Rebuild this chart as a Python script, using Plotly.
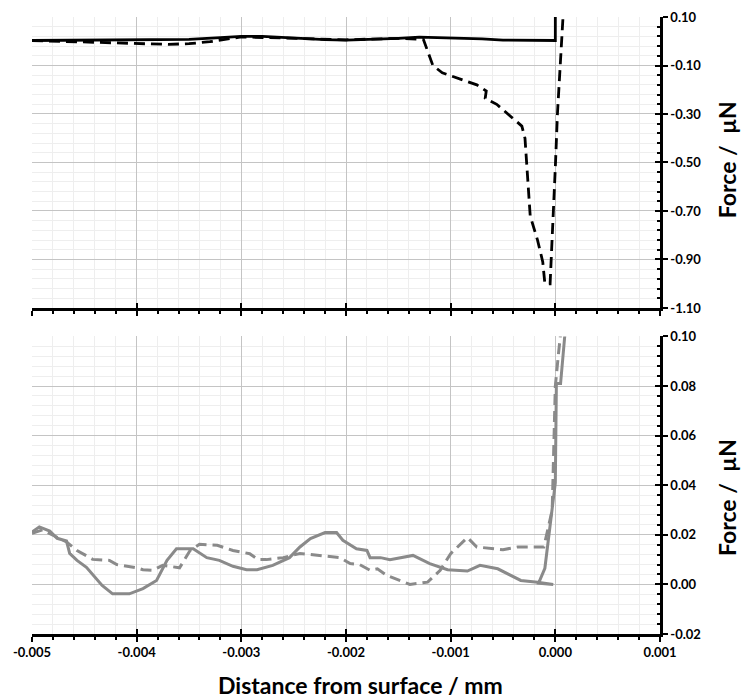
import plotly.graph_objects as go

# ---- Top panel (black) ----
top_solid_x = [-0.005, -0.0046, -0.0035, -0.0032, -0.0030, -0.0028, -0.0025, -0.0022, -0.0020,
               -0.0017, -0.0015, -0.0013, -0.0010, -0.0007, -0.0005, -0.0003, 0.0, 0.0]
top_solid_y = [0.003, 0.005, 0.008, 0.015, 0.020, 0.020, 0.012, 0.007, 0.005,
               0.008, 0.012, 0.017, 0.015, 0.010, 0.005, 0.003, 0.003, 0.15]

top_dash_x = [-0.005, -0.0046, -0.0043, -0.0040, -0.0037, -0.0035, -0.0033, -0.0030, -0.0025,
              -0.0020, -0.0015, -0.00126, -0.00117, -0.00108, -0.00075, -0.00066, -0.00067,
              -0.00056, -0.00032, -0.00029, -0.00024, -0.00017, -0.00012, -0.00010, -0.00005,
              -0.00004, 0.0, 0.00002, 0.00008]
top_dash_y = [0.003, -0.002, -0.006, -0.010, -0.013, -0.010, -0.002, 0.018, 0.012,
              0.006, 0.012, 0.007, -0.100, -0.130, -0.180, -0.205, -0.235,
              -0.260, -0.350, -0.400, -0.720, -0.820, -0.910, -1.000, -1.000,
              -0.910, -0.520, -0.300, 0.150]

# ---- Bottom panel (grey) ----
bot_solid_x = [-0.005, -0.00493, -0.00483, -0.00476, -0.00467, -0.00464, -0.00457, -0.00448,
               -0.00433, -0.00423, -0.00407, -0.00394, -0.00381, -0.00371, -0.00362, -0.00346,
               -0.00333, -0.00321, -0.00308, -0.00295, -0.00285, -0.0027, -0.00254, -0.00244,
               -0.00234, -0.0022, -0.00209, -0.00203, -0.0019, -0.0018, -0.00177, -0.00167,
               -0.00158, -0.00136, -0.0012, -0.00103, -0.00084, -0.00072, -0.00055, -0.00043,
               -0.00033, -0.00017, -0.00002, -0.00016, -0.0001, 0.0, 0.00001, 0.00005, 0.0001]
bot_solid_y = [0.0211, 0.0232, 0.0215, 0.0186, 0.0175, 0.0125, 0.0097, 0.0069,
               -0.0004, -0.0038, -0.0038, -0.0017, 0.0016, 0.0097, 0.0144, 0.0144,
               0.0108, 0.0097, 0.0073, 0.0059, 0.0059, 0.0077, 0.0108, 0.0151,
               0.0185, 0.0209, 0.0209, 0.0178, 0.0144, 0.0137, 0.0108, 0.0108,
               0.0100, 0.0117, 0.0084, 0.0059, 0.0054, 0.0077, 0.0063, 0.0036,
               0.0016, 0.0009, 0.0, 0.0005, 0.0065, 0.041, 0.081, 0.081, 0.105]

bot_dash_x = [-0.005, -0.0049, -0.00467, -0.00457, -0.00442, -0.00426, -0.00419, -0.004,
              -0.00394, -0.00385, -0.00375, -0.00359, -0.00349, -0.0034, -0.00323, -0.00308,
              -0.00292, -0.00284, -0.00276, -0.0026, -0.00244, -0.00228, -0.00206, -0.00196,
              -0.00187, -0.00177, -0.0017, -0.00161, -0.00139, -0.00122, -0.0011, -0.001,
              -0.00084, -0.00075, -0.0005, -0.00036, -0.00011, -0.00003, 0.0, 0.00003, 0.00006]
bot_dash_y = [0.0206, 0.0220, 0.0171, 0.0137, 0.0101, 0.0097, 0.0080, 0.0067,
              0.0059, 0.0057, 0.0077, 0.0067, 0.0137, 0.0162, 0.0158, 0.0137,
              0.0124, 0.0100, 0.0100, 0.0108, 0.0125, 0.0117, 0.0108, 0.0084,
              0.0080, 0.0057, 0.0063, 0.0036, 0.0, 0.0009, 0.0057, 0.0124,
              0.0189, 0.0151, 0.0140, 0.0151, 0.0151, 0.0299, 0.080, 0.093, 0.105]

# ---- Tick labels ----
x_tickvals = [-0.005, -0.004, -0.003, -0.002, -0.001, 0.0, 0.001]
x_ticktext = ["-0.005", "-0.004", "-0.003", "-0.002", "-0.001", "0.000", "0.001"]
top_tickvals = [0.1, -0.1, -0.3, -0.5, -0.7, -0.9, -1.1]
top_ticktext = ["0.10", "-0.10", "-0.30", "-0.50", "-0.70", "-0.90", "-1.10"]
bot_tickvals = [0.10, 0.08, 0.06, 0.04, 0.02, 0.0, -0.02]
bot_ticktext = ["0.10", "0.08", "0.06", "0.04", "0.02", "0.00", "-0.02"]

X_RANGE = [-0.005, 0.001]
TOP_RANGE = [-1.1, 0.1]
BOT_RANGE = [-0.02, 0.10]

X_TITLE = "Distance from surface / mm"
Y_TITLE = "Force /\u00a0\u00a0µN"

FONT = "Lato, 'Open Sans', sans-serif"
BLACK = "#000000"
GREY = "#8a8a8a"
DASH = "11px,6px"

fig = go.Figure()
fig.add_trace(go.Scatter(x=top_solid_x, y=top_solid_y, mode="lines", xaxis="x2", yaxis="y2",
                         line=dict(color=BLACK, width=2.8), showlegend=False))
fig.add_trace(go.Scatter(x=top_dash_x, y=top_dash_y, mode="lines", xaxis="x2", yaxis="y2",
                         line=dict(color=BLACK, width=2.8, dash=DASH), showlegend=False))
fig.add_trace(go.Scatter(x=bot_solid_x, y=bot_solid_y, mode="lines", xaxis="x", yaxis="y",
                         line=dict(color=GREY, width=3), showlegend=False))
fig.add_trace(go.Scatter(x=bot_dash_x, y=bot_dash_y, mode="lines", xaxis="x", yaxis="y",
                         line=dict(color=GREY, width=3, dash=DASH), showlegend=False))
# empty traces so the overlay (inner-tick) axes get drawn
fig.add_trace(go.Scatter(x=[None], y=[None], mode="lines", xaxis="x3", yaxis="y3",
                         showlegend=False, hoverinfo="skip"))
fig.add_trace(go.Scatter(x=[None], y=[None], mode="lines", xaxis="x4", yaxis="y4",
                         showlegend=False, hoverinfo="skip"))

grid_major = "#c4c4c4"
grid_minor = "#eeeeee"
tickfont = dict(family=FONT, size=13, color=BLACK, weight="bold")
titlefont = dict(family=FONT, size=23, color=BLACK, weight="bold")

common_x = dict(range=X_RANGE, tickmode="array", tickvals=x_tickvals,
                showline=True, linecolor=BLACK, linewidth=2.5,
                ticks="outside", ticklen=5, tickwidth=2, tickcolor=BLACK,
                showgrid=True, gridcolor=grid_major, gridwidth=1, zeroline=False,
                automargin=False, ticklabeloverflow="allow",
                minor=dict(dtick=0.0002, tick0=0, ticks="outside", ticklen=3, tickwidth=2,
                           tickcolor=BLACK, showgrid=True, gridcolor=grid_minor, gridwidth=1))

common_y = dict(side="right", tickmode="array", tickfont=tickfont,
                showline=True, linecolor=BLACK, linewidth=2.5,
                ticks="outside", ticklen=5, tickwidth=2, tickcolor=BLACK,
                showgrid=True, gridcolor=grid_major, zeroline=False, automargin=False,
                ticklabeloverflow="allow")

inner_x = dict(range=X_RANGE, tickmode="array", tickvals=x_tickvals, showticklabels=False,
               ticks="inside", ticklen=5, tickwidth=2, tickcolor=BLACK,
               showgrid=False, showline=False, zeroline=False, automargin=False)
inner_y = dict(side="right", tickmode="array", showticklabels=False,
               ticks="inside", ticklen=5, tickwidth=2, tickcolor=BLACK,
               showgrid=False, showline=False, zeroline=False, automargin=False)

fig.update_layout(
    width=749, height=698,
    margin=dict(l=24, r=97, t=9, b=72),
    paper_bgcolor="white", plot_bgcolor="white",
    xaxis=dict(**common_x, ticktext=x_ticktext, anchor="y", domain=[0, 1], tickfont=tickfont),
    xaxis2=dict(**common_x, ticktext=[""] * len(x_tickvals), anchor="y2", domain=[0, 1],
                matches="x"),
    yaxis=dict(**common_y, domain=[0, 0.4822], range=BOT_RANGE, anchor="x",
               tickvals=bot_tickvals, ticktext=bot_ticktext,
               minor=dict(dtick=0.004, tick0=0, ticks="", showgrid=True, gridcolor=grid_minor)),
    yaxis2=dict(**common_y, domain=[0.5284, 1], range=TOP_RANGE, anchor="x2",
                tickvals=top_tickvals, ticktext=top_ticktext,
                minor=dict(dtick=0.04, tick0=0.1, ticks="", showgrid=True, gridcolor=grid_minor)),
    xaxis3=dict(**inner_x, overlaying="x", anchor="y3"),
    xaxis4=dict(**inner_x, overlaying="x2", anchor="y4"),
    yaxis3=dict(**inner_y, overlaying="y", anchor="x3", range=BOT_RANGE, tickvals=bot_tickvals,
                minor=dict(dtick=0.004, tick0=0, ticks="inside", ticklen=3, tickwidth=2,
                           tickcolor=BLACK, showgrid=False)),
    yaxis4=dict(**inner_y, overlaying="y2", anchor="x4", range=TOP_RANGE, tickvals=top_tickvals,
                minor=dict(dtick=0.04, tick0=0.1, ticks="inside", ticklen=3, tickwidth=2,
                           tickcolor=BLACK, showgrid=False)),
    annotations=[
        dict(text=X_TITLE, xref="paper", yref="paper", x=0.5223, y=-0.0827,
             xanchor="center", yanchor="middle", showarrow=False, font=titlefont),
        dict(text=Y_TITLE, xref="paper", yref="paper", x=1.1067, y=0.768, textangle=-90,
             xanchor="center", yanchor="middle", showarrow=False, font=titlefont),
        dict(text=Y_TITLE, xref="paper", yref="paper", x=1.1067, y=0.2204, textangle=-90,
             xanchor="center", yanchor="middle", showarrow=False, font=titlefont),
    ],
)

fig.write_html("out.html")
